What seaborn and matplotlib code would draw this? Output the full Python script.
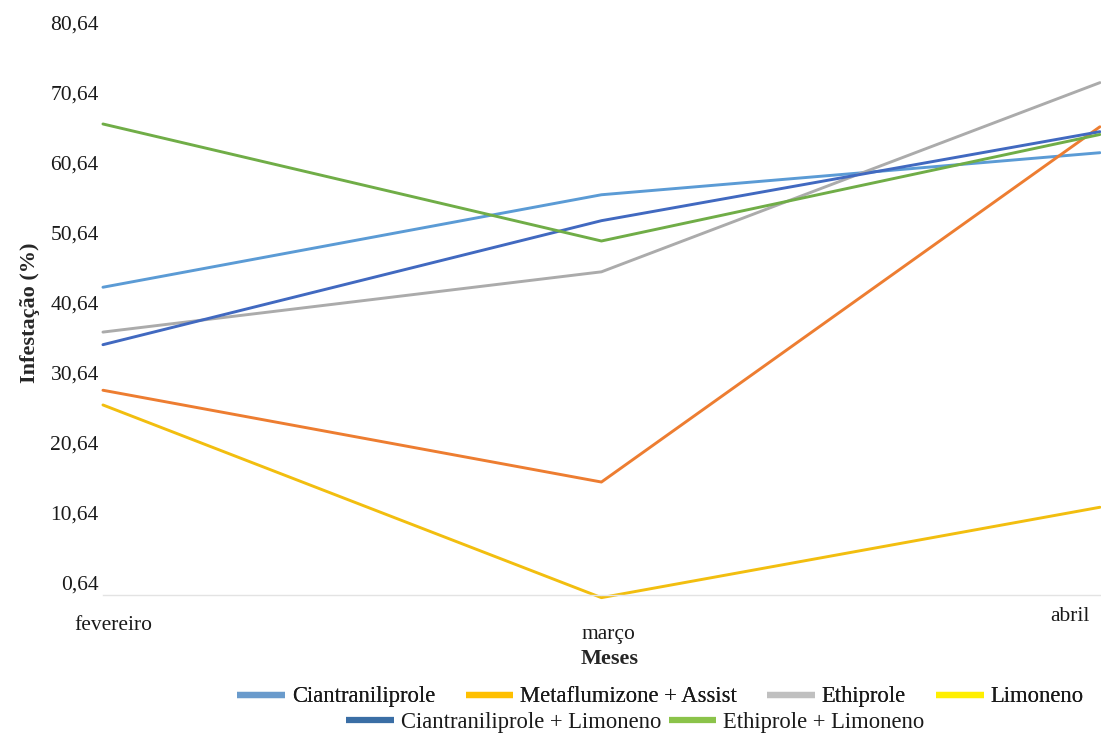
import matplotlib
matplotlib.use("Agg")
import matplotlib.pyplot as plt
import matplotlib.transforms as mtransforms
from matplotlib.lines import Line2D
import pandas as pd
import seaborn as sns

# --- data -------------------------------------------------------------
meses = ["fevereiro", "março", "abril"]
series = [
    "Ciantraniliprole",
    "Metaflumizone + Assist",
    "Ethiprole",
    "Limoneno",
    "Ciantraniliprole + Limoneno",
    "Ethiprole + Limoneno",
]
ciantraniliprole = [42.8, 56.0, 62.0]
metaflumizone_assist = [28.1, 15.0, 65.7]
ethiprole = [36.4, 45.0, 72.0]
limoneno = [26.0, -1.5, 11.4]
ciantraniliprole_limoneno = [34.6, 52.3, 65.0]
ethiprole_limoneno = [66.1, 49.4, 64.6]
y_ticks = [0.64, 10.64, 20.64, 30.64, 40.64, 50.64, 60.64, 70.64, 80.64]

valores = [ciantraniliprole, metaflumizone_assist, ethiprole, limoneno,
           ciantraniliprole_limoneno, ethiprole_limoneno]

rows = []
for nome, vals in zip(series, valores):
    for i, (mes, v) in enumerate(zip(meses, vals)):
        rows.append({"serie": nome, "pos": i, "mes": mes, "valor": v})
df = pd.DataFrame(rows)

# --- style ------------------------------------------------------------
line_colors = {
    "Ciantraniliprole": "#5B9BD5",
    "Metaflumizone + Assist": "#ED7D31",
    "Ethiprole": "#ABABAB",
    "Limoneno": "#F2BE0F",
    "Ciantraniliprole + Limoneno": "#4169C0",
    "Ethiprole + Limoneno": "#70AD47",
}
legend_colors = {
    "Ciantraniliprole": "#6A9BCC",
    "Metaflumizone + Assist": "#FFC000",
    "Ethiprole": "#C0C0C0",
    "Limoneno": "#FFEF00",
    "Ciantraniliprole + Limoneno": "#3A6EA5",
    "Ethiprole + Limoneno": "#8BC34A",
}

sns.set_theme(style="white")
plt.rcParams["font.family"] = ["Liberation Serif", "DejaVu Serif"]
plt.rcParams["text.color"] = "#1A1A1A"

fig = plt.figure(figsize=(11.01, 7.36), dpi=100)
ax = fig.add_axes([0.0935, 0.1916, 0.9055, 0.8016])

sns.lineplot(data=df, x="pos", y="valor", hue="serie", hue_order=series,
             palette=line_colors, linewidth=2.1, legend=False,
             clip_on=False, ax=ax)

ax.set_xlim(0, 2)
ax.set_ylim(-1.12, 83.08)

ax.set_yticks(y_ticks)
ax.set_yticklabels([f"{t:.2f}".replace(".", ",") for t in y_ticks])
ax.set_xticks(range(len(meses)))
ax.set_xticklabels(meses)
ax.tick_params(axis="both", length=0, labelsize=15.5, colors="#1A1A1A")
ax.tick_params(axis="y", pad=3)
ax.tick_params(axis="x", pad=9)

# month labels sit at slightly different heights
offsets_px = [(10, -9), (7, -18), (-10, 0)]
for lab, (dx, dy) in zip(ax.get_xticklabels(), offsets_px):
    lab.set_transform(lab.get_transform() +
                      mtransforms.ScaledTranslation(dx / 100, dy / 100,
                                                    fig.dpi_scale_trans))
ax.get_xticklabels()[-1].set_ha("right")

sns.despine(ax=ax, left=True, top=True, right=True)
ax.spines["bottom"].set_color("#E3E3E3")
ax.spines["bottom"].set_linewidth(1.0)
ax.grid(False)

ax.set_ylabel("Infestação (%)", fontsize=16, fontweight="bold")
ax.yaxis.set_label_coords(-0.063, 0.478)
ax.set_xlabel("Meses", fontsize=16, fontweight="bold")
ax.xaxis.set_label_coords(0.5085, -0.108)
ax.xaxis.label.set_va("center")


def handles_for(names):
    return [Line2D([0], [0], color=legend_colors[n], lw=4.5,
                   solid_capstyle="butt") for n in names]


leg_kw = dict(frameon=False, fontsize=16.3, handlelength=2.1,
              handletextpad=0.3, borderpad=0,
              loc="center", bbox_transform=fig.transFigure)
leg1 = fig.legend(handles_for(series[:4]), series[:4], ncol=4,
                  columnspacing=1.35, bbox_to_anchor=(0.600, 0.053), **leg_kw)
fig.add_artist(leg1)
fig.legend(handles_for(series[4:]), series[4:], ncol=2,
           columnspacing=0.35, bbox_to_anchor=(0.577, 0.0185), **leg_kw)

fig.savefig("out.png", dpi=100)
